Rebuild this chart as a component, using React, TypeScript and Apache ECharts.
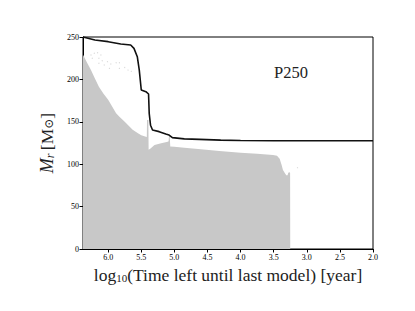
import React, { useEffect, useRef } from "react";
import * as echarts from "echarts";

// Enclosed mass of the star model (black line): [log10 time left, M_r]
const massLine: [number, number][] = [
  [6.38, 250], [6.2, 246.5], [6.0, 244.5], [5.81, 241.7], [5.66, 240.6], [5.61, 236.6],
  [5.56, 226.8], [5.53, 211], [5.5, 187.5], [5.43, 185.5], [5.39, 182.8], [5.38, 160],
  [5.36, 146], [5.33, 140.3], [5.23, 138.4], [5.13, 135.6], [5.08, 134.4], [5.03, 131.3],
  [4.85, 129.9], [4.62, 129.3], [4.3, 128.4], [4.0, 127.9], [3.5, 127.7], [3.0, 127.6], [2.0, 127.6],
];

// Upper boundary of the convective (grey) zone
const convZone: [number, number][] = [
  [6.38, 229], [6.32, 220], [6.26, 211], [6.2, 201], [6.14, 191.4], [6.07, 183], [6.0, 176],
  [5.88, 160], [5.83, 156], [5.75, 150], [5.63, 140.5], [5.55, 136.5], [5.5, 134], [5.43, 132.4],
  [5.416, 132], [5.413, 152], [5.393, 152], [5.389, 117], [5.36, 118.5], [5.3, 122.6],
  [5.2, 124.6], [5.1, 126.5], [5.087, 127], [5.082, 133], [5.07, 133], [5.062, 121],
  [5.0, 120.5], [4.85, 119.5], [4.6, 117.5], [4.32, 115.5], [4.0, 113.5], [3.75, 112.3],
  [3.51, 110.8], [3.45, 110], [3.41, 106.5], [3.38, 99], [3.36, 93.2], [3.33, 89.2],
  [3.31, 87], [3.29, 87], [3.28, 90], [3.262, 90.5], [3.252, 90], [3.25, 0],
];

// Scattered small convective points
const convDots: [number, number][] = [
  [6.26, 228.8], [6.21, 230.8], [6.16, 231.5], [6.11, 228.8], [6.24, 224.9], [6.14, 224.9],
  [6.09, 222], [6.01, 220.9], [6.14, 219], [6.06, 217], [5.96, 218.2], [5.88, 219.7],
  [5.83, 219.7], [5.83, 213], [5.98, 213], [5.75, 214], [5.7, 211], [5.65, 209.5], [3.14, 95.9],
];

const xTicks = [2.0, 2.5, 3.0, 3.5, 4.0, 4.5, 5.0, 5.5, 6.0];
const yTicks = [0, 50, 100, 150, 200, 250];
const modelLabel = "P250";

const SERIF = "'Liberation Serif', 'DejaVu Serif', serif";

export default function App() {
  const ref = useRef<HTMLDivElement>(null);
  useEffect(() => {
    if (!ref.current) return;
    document.body.style.margin = "0";
    const chart = echarts.init(ref.current, null, { renderer: "svg" });
    chart.setOption({
      animation: false,
      backgroundColor: "#fff",
      grid: {
        left: 83, top: 37, right: 42, bottom: 62,
        show: true, borderColor: "#000", borderWidth: 1, backgroundColor: "transparent",
      },
      xAxis: {
        type: "value", inverse: true, min: 2, max: 6.38,
        axisLine: { show: true, lineStyle: { color: "#000", width: 1 } },
        axisTick: { show: true, length: 3.5, lineStyle: { color: "#000" }, customValues: xTicks },
        axisLabel: {
          customValues: xTicks, fontFamily: SERIF, fontSize: 8, color: "#000", margin: 4,
          formatter: (v: number) => v.toFixed(1),
        },
        splitLine: { show: false },
        name: "{a|log}{b|10}{a|(Time left until last model) [year]}",
        nameLocation: "middle", nameGap: 15,
        nameTextStyle: {
          rich: {
            a: { fontFamily: SERIF, fontSize: 17.5, color: "#222" },
            b: { fontFamily: SERIF, fontSize: 11, color: "#222", padding: [7, 0, 0, 0] },
          },
        },
      },
      yAxis: {
        type: "value", min: 0, max: 250, interval: 50,
        axisLine: { show: true, lineStyle: { color: "#000", width: 1 } },
        axisTick: { show: true, length: 3.5, lineStyle: { color: "#000" } },
        axisLabel: { fontFamily: SERIF, fontSize: 8, color: "#000", margin: 4, customValues: yTicks },
        splitLine: { show: false },
        name: "{i|M}{s|r} {a|[M}{o|⊙}{a|]}",
        nameLocation: "middle", nameGap: 11, nameRotate: 90,
        nameTextStyle: {
          rich: {
            i: { fontFamily: SERIF, fontSize: 18, fontStyle: "italic", color: "#222" },
            s: { fontFamily: SERIF, fontSize: 12, fontStyle: "italic", color: "#222", padding: [7, 0, 0, 0] },
            a: { fontFamily: SERIF, fontSize: 17.5, color: "#222" },
            o: { fontFamily: SERIF, fontSize: 12, color: "#222", padding: [5, 0, 0, 0] },
          },
        },
      },
      series: [
        {
          type: "line", data: convZone, showSymbol: false, symbol: "none",
          lineStyle: { width: 0 }, areaStyle: { color: "#c8c8c8", opacity: 1 },
          z: 1, silent: true,
        },
        {
          type: "scatter", data: convDots, symbolSize: 1.2,
          itemStyle: { color: "#d0d0d0" }, z: 1, silent: true,
        },
        {
          type: "line", data: massLine, showSymbol: false, symbol: "none",
          lineStyle: { color: "#111", width: 1.6 }, z: 3, silent: true,
        },
      ],
      graphic: [
        {
          type: "text", left: 274, top: 64,
          style: { text: modelLabel, font: `16.5px ${SERIF}`, fill: "#222" },
        },
      ],
    });
    return () => chart.dispose();
  }, []);
  return <div ref={ref} style={{ width: 415, height: 311 }} />;
}
